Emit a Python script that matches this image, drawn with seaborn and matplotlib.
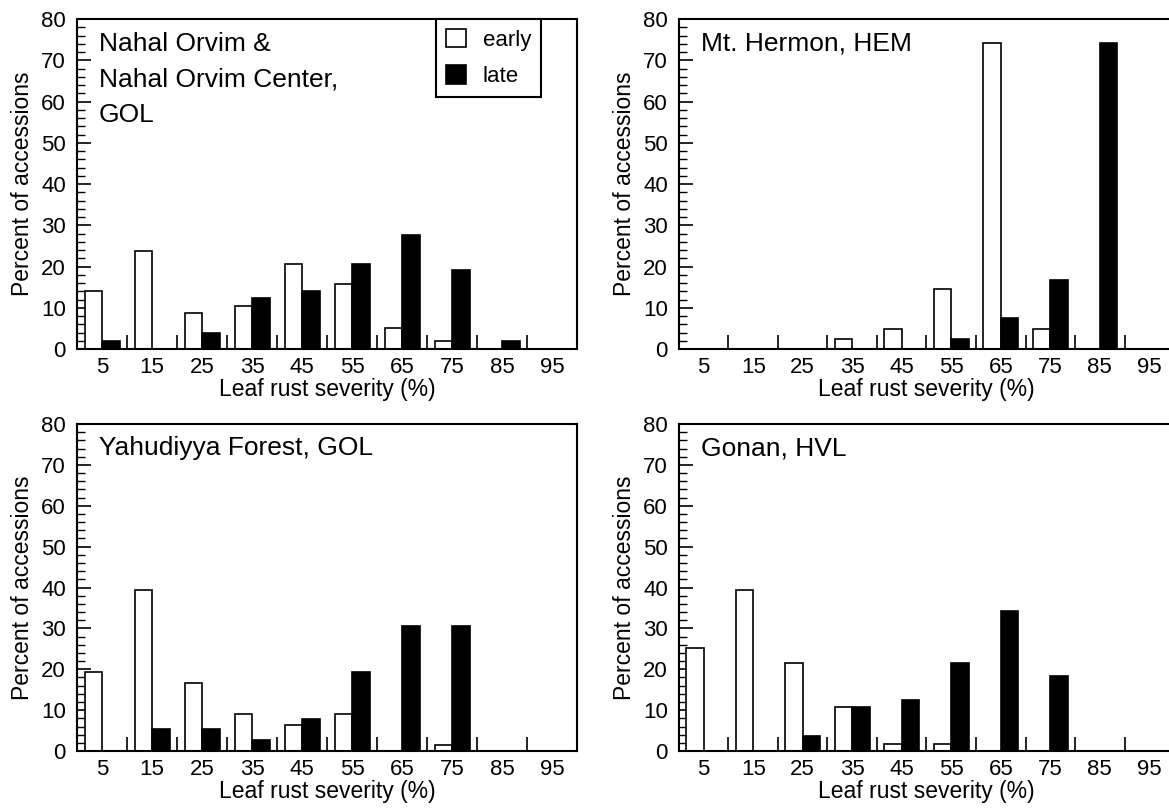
import numpy as np
import pandas as pd
import matplotlib.pyplot as plt
import seaborn as sns
from matplotlib.ticker import MultipleLocator, FixedLocator

# Style: boxed axes, inward ticks, Helvetica-like font, pure black text
sns.set_style('ticks', {'xtick.direction': 'in', 'ytick.direction': 'in'})
plt.rcParams['font.family'] = ['Liberation Sans', 'DejaVu Sans']
plt.rcParams.update({'text.color': 'black', 'axes.labelcolor': 'black',
                     'xtick.color': 'black', 'ytick.color': 'black',
                     'axes.edgecolor': 'black'})

# Data (percent of accessions per severity class)
severity = [5, 15, 25, 35, 45, 55, 65, 75, 85, 95]

nahal_early = [14.1, 23.8, 8.8, 10.5, 20.5, 15.7, 5.1, 1.9, 0, 0]
nahal_late = [1.9, 0, 3.9, 12.3, 14.1, 20.5, 27.6, 19.2, 1.9, 0]

hermon_early = [0, 0, 0, 2.4, 4.8, 14.5, 74.3, 4.8, 0, 0]
hermon_late = [0, 0, 0, 0, 0, 2.5, 7.5, 16.7, 74.3, 0]

yahud_early = [19.4, 39.3, 16.7, 9.0, 6.4, 9.0, 0, 1.5, 0, 0]
yahud_late = [0, 5.3, 5.3, 2.7, 7.8, 19.4, 30.6, 30.6, 0, 0]

gonan_early = [25.3, 39.4, 21.5, 10.7, 1.8, 1.8, 0, 0, 0, 0]
gonan_late = [0, 0, 3.6, 10.8, 12.6, 21.5, 34.2, 18.3, 0, 0]

panel_titles = ['Nahal Orvim &\nNahal Orvim Center,\nGOL', 'Mt. Hermon, HEM',
                'Yahudiyya Forest, GOL', 'Gonan, HVL']
panel_data = [(nahal_early, nahal_late), (hermon_early, hermon_late),
              (yahud_early, yahud_late), (gonan_early, gonan_late)]

# axes rectangles in figure fractions (right column runs past the edge, as in the scan)
positions = [
    [0.0659, 0.5691, 0.4277, 0.4074],
    [0.5808, 0.5691, 0.4235, 0.4074],
    [0.0659, 0.0728, 0.4277, 0.4037],
    [0.5808, 0.0728, 0.4235, 0.4037],
]

fig = plt.figure(figsize=(11.69, 8.10), dpi=100)

for i, (pos, title, (early, late)) in enumerate(zip(positions, panel_titles, panel_data)):
    ax = fig.add_axes(pos)
    df = pd.DataFrame({
        'severity': severity * 2,
        'percent': early + late,
        'timing': ['early'] * len(severity) + ['late'] * len(severity),
    })
    sns.barplot(data=df, x='severity', y='percent', hue='timing',
                palette={'early': 'white', 'late': 'black'},
                edgecolor='black', linewidth=1.2, width=0.7,
                legend=(i == 0), ax=ax)

    ax.set_xlim(-0.5, 9.5)
    ax.set_ylim(0, 80)
    ax.set_yticks(range(0, 81, 10))
    ax.yaxis.set_minor_locator(MultipleLocator(2))
    ax.xaxis.set_minor_locator(FixedLocator(np.arange(0.5, 9, 1)))

    ax.tick_params(axis='x', which='major', length=0, pad=6, labelsize=16)
    ax.tick_params(axis='x', which='minor', length=10, width=1.2, direction='in')
    ax.tick_params(axis='y', which='major', length=10, width=1.2, direction='in',
                   pad=8, labelsize=16)
    ax.tick_params(axis='y', which='minor', length=6, width=1.0, direction='in')

    for s in ax.spines.values():
        s.set_visible(True)
        s.set_linewidth(1.5)
        s.set_color('black')

    ax.set_xlabel('Leaf rust severity (%)', fontsize=16.5, labelpad=0)
    ax.set_ylabel('Percent of accessions', fontsize=16.5, labelpad=5)

    ax.text(0.044, 0.962, title, transform=ax.transAxes, ha='left', va='top',
            fontsize=19, linespacing=1.62)

    if i == 0:
        sns.move_legend(ax, 'upper right', bbox_to_anchor=(0.928, 1.0),
                        title=None, frameon=True, fancybox=False,
                        edgecolor='black', fontsize=16, borderaxespad=0,
                        handlelength=0.9, handleheight=0.9, labelspacing=0.65,
                        handletextpad=0.75, borderpad=0.45)
        leg = ax.get_legend()
        leg.get_frame().set_linewidth(1.5)
        leg.get_frame().set_alpha(1)
        for h in leg.legend_handles:
            h.set_edgecolor('black')
            h.set_linewidth(1.2)

fig.savefig('out.png', dpi=100)
